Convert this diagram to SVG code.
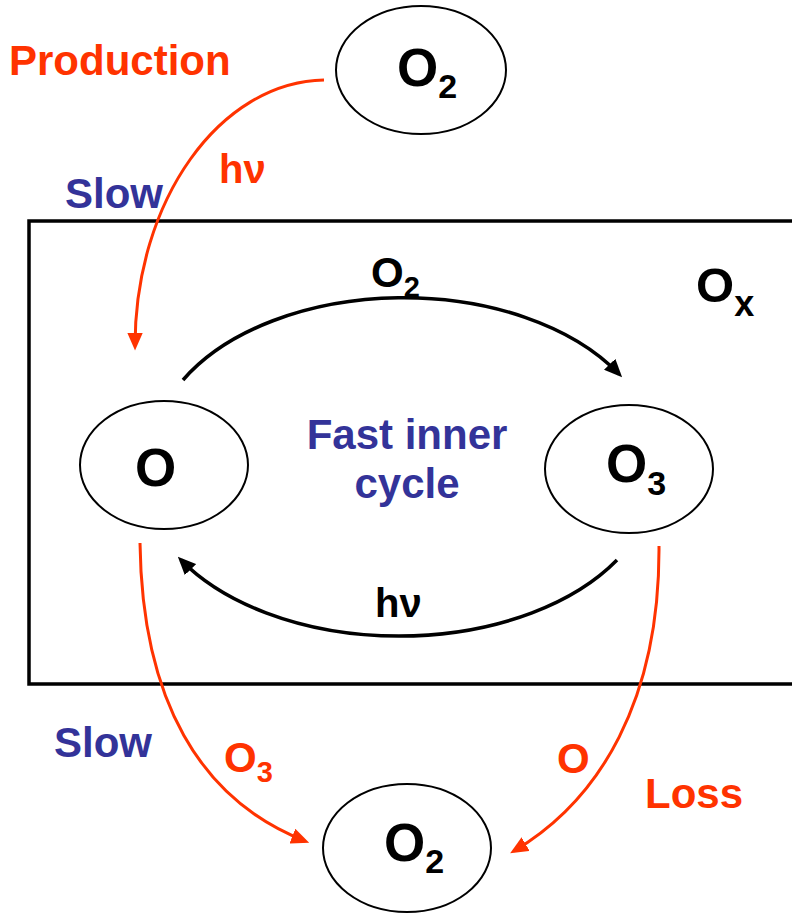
<svg xmlns="http://www.w3.org/2000/svg" width="792" height="913" viewBox="0 0 792 913">
<style>
text{font-family:"Liberation Sans",Arial,sans-serif;font-weight:bold}
.node ellipse{fill:#fff;stroke:#000;stroke-width:2}
.nt{font-size:53px;fill:#000}
.sub{font-size:34px}
.lbl{font-size:42px}
.lsub{font-size:29px}
.red{fill:#FF3300}
.blue{fill:#333399}
.blk{fill:#000}
.rc{fill:none;stroke:#FF3300;stroke-width:3}
.bc{fill:none;stroke:#000;stroke-width:3.5}
</style>
<defs>
<marker id="ar" markerUnits="userSpaceOnUse" markerWidth="18" markerHeight="16" viewBox="0 0 16 14" refX="12" refY="7" orient="auto"><path d="M0,0 L16,7 L0,14 z" fill="#FF3300"/></marker>
<marker id="ab" markerUnits="userSpaceOnUse" markerWidth="18" markerHeight="16" viewBox="0 0 16 14" refX="12" refY="7" orient="auto"><path d="M0,0 L16,7 L0,14 z" fill="#000"/></marker>
</defs>
<path id="box" d="M796,221 H29 V684 H796" fill="none" stroke="#000" stroke-width="3.5"/>
<g id="connectors">
<path class="rc" d="M324,80 C220,82 135,200 135,346" marker-end="url(#ar)"/>
<path class="bc" d="M183,380 A251,157 0 0,1 619,374" marker-end="url(#ab)"/>
<path class="bc" d="M617,560 A255,158 0 0,1 181,560" marker-end="url(#ab)"/>
<path class="rc" d="M140,543 C142,700 200,800 305,841" marker-end="url(#ar)"/>
<path class="rc" d="M659,546 C660,700 600,800 514,851" marker-end="url(#ar)"/>
</g>
<g id="n-o2-top" class="node"><ellipse cx="421" cy="70" rx="85" ry="64"/><text class="nt" x="397" y="86">O<tspan class="sub" dy="12">2</tspan></text></g>
<g id="n-o" class="node"><ellipse cx="164" cy="465" rx="84" ry="64"/><text class="nt" x="135" y="486">O</text></g>
<g id="n-o3" class="node"><ellipse cx="629" cy="469" rx="84" ry="64"/><text class="nt" x="606" y="482">O<tspan class="sub" dy="13">3</tspan></text></g>
<g id="n-o2-bot" class="node"><ellipse cx="407" cy="848" rx="84" ry="64"/><text class="nt" x="384" y="861">O<tspan class="sub" dy="12">2</tspan></text></g>
<g id="labels">
<text class="lbl red" x="9" y="75">Production</text>
<text class="lbl blue" x="65" y="208">Slow</text>
<text class="red" x="219" y="183" font-size="40">hν</text>
<text class="lbl blk" x="371" y="287">O<tspan class="lsub" dy="10">2</tspan></text>
<text class="blk" x="696" y="302" font-size="49">O<tspan font-size="36" dy="14">x</tspan></text>
<text class="lbl blue" x="407" y="449" text-anchor="middle">Fast inner</text>
<text class="lbl blue" x="407" y="498" text-anchor="middle">cycle</text>
<text class="blk" x="375" y="617" font-size="40">hν</text>
<text class="lbl blue" x="54" y="757">Slow</text>
<text class="lbl red" x="224" y="772">O<tspan class="lsub" dy="10">3</tspan></text>
<text class="lbl red" x="557" y="773">O</text>
<text class="lbl red" x="645" y="808">Loss</text>
</g>
</svg>
